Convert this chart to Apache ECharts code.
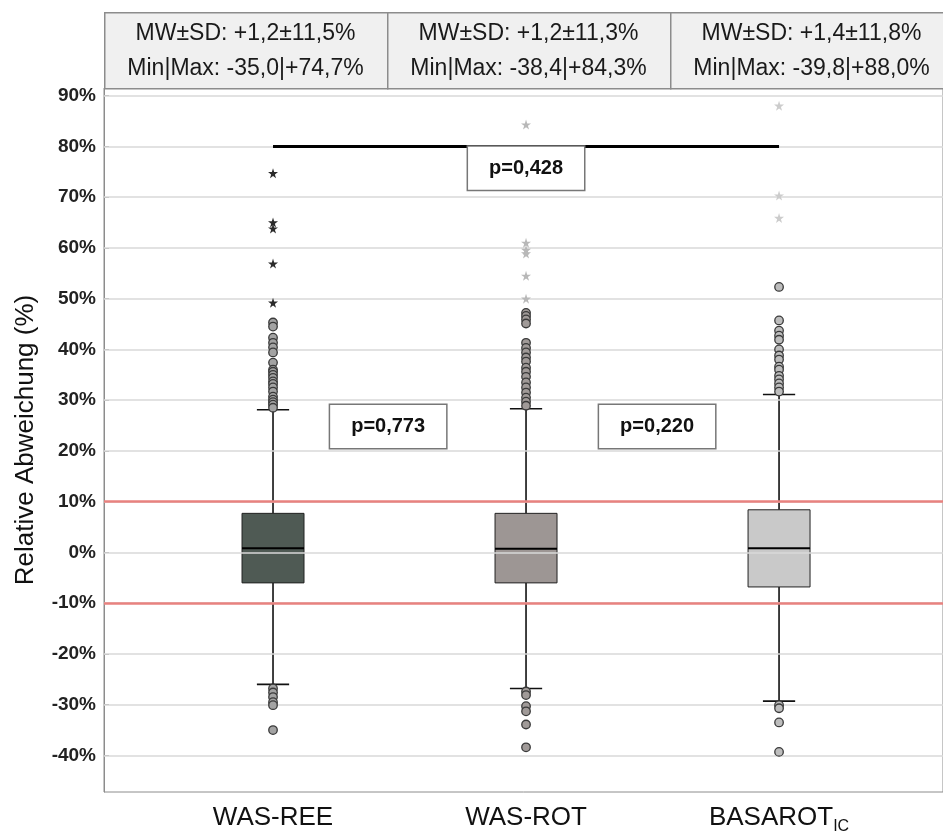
<!DOCTYPE html>
<html><head><meta charset="utf-8">
<script src="https://cdn.jsdelivr.net/npm/echarts@6/dist/echarts.min.js"></script>
<style>html,body{margin:0;padding:0;background:#fff}#c{width:943px;height:835px}</style>
</head><body><div id="c"></div>
<script>
// ---------- data ----------
const categories = ['WAS-REE', 'WAS-ROT', 'BASAROT'];
const categorySubs = ['', '', 'IC'];
const boxLow    = [-26.0, -26.8, -29.3];
const boxQ1     = [-6.0, -6.0, -6.8];
const boxMedian = [0.8, 0.7, 0.8];
const boxQ3     = [7.7, 7.7, 8.4];
const boxHigh   = [28.1, 28.3, 31.1];

const circlesREE = [45.3, 44.5, 42.3, 41.3, 40.4, 39.4, 37.4, 36.0, 35.6, 35.0, 34.4, 33.7, 33.2, 32.5, 31.7, 30.7, 30.1, 29.6, 29.1, 28.5,
                    -26.8, -27.6, -28.5, -29.5, -30.1, -35.0];
const starsREE   = [74.7, 65.0, 63.8, 56.9, 49.2];
const circlesROT = [47.2, 46.6, 45.9, 45.1, 41.3, 40.3, 39.4, 38.4, 37.6, 36.4, 35.6, 34.6, 33.5, 32.5, 31.5, 30.5, 29.7, 28.9,
                    -27.4, -28.1, -30.3, -31.3, -33.9, -38.4];
const starsROT   = [84.3, 61.0, 59.6, 58.9, 54.5, 50.0];
const circlesBAS = [52.3, 45.7, 43.7, 42.7, 41.9, 40.0, 38.8, 38.0, 36.6, 36.0, 34.8, 34.1, 33.3, 32.5, 31.7,
                    -30.1, -30.7, -33.5, -39.3];
const starsBAS   = [88.0, 70.3, 65.9];

const yTicks = [-40, -30, -20, -10, 0, 10, 20, 30, 40, 50, 60, 70, 80, 90];
const limitLines = [10, -10];
const bracketLevel = 80;
const statsMW = ['MW±SD: +1,2±11,5%', 'MW±SD: +1,2±11,3%', 'MW±SD: +1,4±11,8%'];
const statsMinMax = ['Min|Max: -35,0|+74,7%', 'Min|Max: -38,4|+84,3%', 'Min|Max: -39,8|+88,0%'];
const pTexts = ['p=0,428', 'p=0,773', 'p=0,220'];

// ---------- styling ----------
const boxColors = ['#4f5a54', '#9d9694', '#c9c9c9'];
const circleFill = ['#a3a3a3', '#a09a98', '#bdbdbd'];
const starColors = ['#2b2b2b', '#b8b8b8', '#cccccc'];
const STAR = 'path://M50,0 L61,35 L98,35 L68,57 L79,91 L50,70 L21,91 L32,57 L2,35 L39,35 Z';
const FONT = '"Liberation Sans", Arial, sans-serif';

const chart = echarts.init(document.getElementById('c'), null, {renderer: 'canvas'});

const boxData = categories.map((c, i) => [i, boxLow[i], boxQ1[i], boxMedian[i], boxQ3[i], boxHigh[i]]);

function renderBox(params, api) {
  const i = api.value(0);
  const xc = api.coord([i, 0])[0];
  const yLow = api.coord([i, api.value(1)])[1];
  const yQ1 = api.coord([i, api.value(2)])[1];
  const yMed = api.coord([i, api.value(3)])[1];
  const yQ3 = api.coord([i, api.value(4)])[1];
  const yHigh = api.coord([i, api.value(5)])[1];
  const bw = api.size([0.245, 0])[0];
  const half = bw / 2, cap = bw * 0.26;
  const ls = {stroke: '#111', lineWidth: 1.6};
  return {type: 'group', children: [
    {type: 'line', shape: {x1: xc, y1: yHigh, x2: xc, y2: yQ3}, style: ls},
    {type: 'line', shape: {x1: xc, y1: yQ1, x2: xc, y2: yLow}, style: ls},
    {type: 'line', shape: {x1: xc - cap, y1: yHigh, x2: xc + cap, y2: yHigh}, style: ls},
    {type: 'line', shape: {x1: xc - cap, y1: yLow, x2: xc + cap, y2: yLow}, style: ls},
    {type: 'rect', shape: {x: xc - half, y: yQ3, width: bw, height: yQ1 - yQ3},
      style: {fill: boxColors[i], stroke: '#222', lineWidth: 1}},
    {type: 'line', shape: {x1: xc - half, y1: yMed, x2: xc + half, y2: yMed}, style: {stroke: '#000', lineWidth: 2}}
  ]};
}

function circleSeries(vals, idx) {
  return {type: 'scatter', z: 5, symbol: 'circle', symbolSize: 8.5,
    itemStyle: {color: circleFill[idx], borderColor: '#3a3a3a', borderWidth: 1.3, opacity: 1},
    data: vals.map(v => [idx, v]), silent: true};
}
function starSeries(vals, idx) {
  return {type: 'scatter', z: 5, symbol: STAR, symbolSize: 10,
    itemStyle: {color: starColors[idx], opacity: 1},
    data: vals.map(v => [idx, v]), silent: true};
}

// header cells
const hdrLeft = 104, hdrTop = 12, hdrH = 76, cellW = 283;
const header = [];
for (let i = 0; i < 3; i++) {
  header.push({type: 'rect', left: hdrLeft + i * cellW, top: hdrTop, z: 100,
    shape: {width: cellW, height: hdrH},
    style: {fill: '#f0f0f0', stroke: '#8c8c8c', lineWidth: 1.5}});
  header.push({type: 'text', z: 101, x: hdrLeft + i * cellW + cellW / 2, y: hdrTop + 22,
    style: {text: statsMW[i], font: '23px ' + FONT, fill: '#1a1a1a', textAlign: 'center', textVerticalAlign: 'middle'}});
  header.push({type: 'text', z: 101, x: hdrLeft + i * cellW + cellW / 2, y: hdrTop + 57,
    style: {text: statsMinMax[i], font: '23px ' + FONT, fill: '#1a1a1a', textAlign: 'center', textVerticalAlign: 'middle'}});
}

const pLabelStyle = {show: true, fontSize: 20, fontWeight: 'bold', color: '#111', fontFamily: FONT,
  backgroundColor: '#fff', borderColor: '#777', borderWidth: 1.5, padding: [12, 21, 11, 21]};

const option = {
  animation: false,
  backgroundColor: '#fff',
  grid: {left: 104, right: 0, top: 88, bottom: 42, show: true, borderColor: '#8c8c8c', borderWidth: 1, backgroundColor: '#fff'},
  xAxis: {type: 'value', min: -0.668, max: 2.648,
    axisLine: {show: false}, axisTick: {show: false}, splitLine: {show: false},
    axisLabel: {customValues: [0, 1, 2], margin: 13,
      formatter: v => {
        const i = Math.round(v);
        return '{m|' + categories[i] + '}' + (categorySubs[i] ? '{s|' + categorySubs[i] + '}' : '');
      },
      rich: {
        m: {fontSize: 26, fontFamily: FONT, color: '#111', lineHeight: 30, verticalAlign: 'top'},
        s: {fontSize: 16, fontFamily: FONT, color: '#111', lineHeight: 16, verticalAlign: 'bottom'}
      }}
  },
  yAxis: {type: 'value', min: -47.2, max: 91.5,
    name: 'Relative Abweichung (%)', nameLocation: 'middle', nameRotate: 90, nameGap: 65,
    nameTextStyle: {fontSize: 26, fontFamily: FONT, color: '#111'},
    axisLine: {show: true, onZero: false, lineStyle: {color: '#8c8c8c', width: 1}},
    axisTick: {show: true, inside: true, length: 5, customValues: yTicks, lineStyle: {color: '#999'}},
    splitLine: {show: false},
    axisLabel: {customValues: yTicks, formatter: v => v + '%', fontSize: 19, fontWeight: 'bold', color: '#222', fontFamily: FONT, margin: 8}
  },
  graphic: header,
  series: [
    {type: 'line', data: [], z: 0, silent: true,
      markLine: {silent: true, symbol: 'none', label: {show: false},
        lineStyle: {color: '#d8d8d8', width: 1.5, type: 'solid'},
        data: yTicks.map(v => ({yAxis: v}))}},
    {type: 'line', data: [], z: 1, silent: true,
      markLine: {silent: true, symbol: 'none', label: {show: false},
        lineStyle: {color: '#e8827f', width: 2.5, type: 'solid'},
        data: limitLines.map(v => ({yAxis: v}))}},
    {type: 'custom', z: 3, renderItem: renderBox, data: boxData, silent: true,
      markLine: {silent: true, symbol: 'none', label: {show: false}, z: 6,
        lineStyle: {color: '#000', width: 2.8, type: 'solid'},
        data: [[{coord: [0, bracketLevel]}, {coord: [2, bracketLevel]}]]},
      markPoint: {silent: true, symbol: 'rect', symbolSize: 0, z: 7,
        label: pLabelStyle,
        data: [
          {coord: [1.0, 75.7], value: pTexts[0], label: {formatter: pTexts[0]}},
          {coord: [0.455, 24.8], value: pTexts[1], label: {formatter: pTexts[1]}},
          {coord: [1.518, 24.8], value: pTexts[2], label: {formatter: pTexts[2]}}
        ]}},
    circleSeries(circlesREE, 0), starSeries(starsREE, 0),
    circleSeries(circlesROT, 1), starSeries(starsROT, 1),
    circleSeries(circlesBAS, 2), starSeries(starsBAS, 2)
  ]
};
chart.setOption(option);
</script></body></html>
